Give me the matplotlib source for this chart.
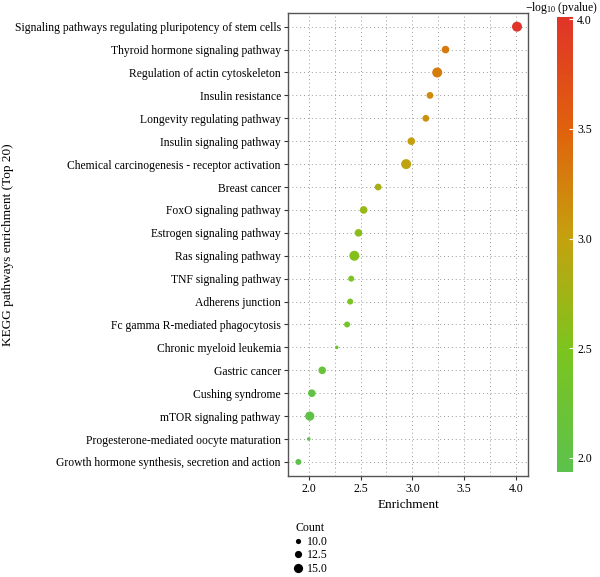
import matplotlib
matplotlib.use("Agg")
import matplotlib.pyplot as plt
import numpy as np
from matplotlib.colors import LinearSegmentedColormap, Normalize
from matplotlib.lines import Line2D

plt.rcParams['font.family'] = ['Liberation Serif', 'DejaVu Serif']
plt.rcParams['mathtext.fontset'] = 'custom'
plt.rcParams['mathtext.rm'] = 'Liberation Serif'
plt.rcParams['mathtext.it'] = 'Liberation Serif:italic'

pathways = [
    "Signaling pathways regulating pluripotency of stem cells",
    "Thyroid hormone signaling pathway",
    "Regulation of actin cytoskeleton",
    "Insulin resistance",
    "Longevity regulating pathway",
    "Insulin signaling pathway",
    "Chemical carcinogenesis - receptor activation",
    "Breast cancer",
    "FoxO signaling pathway",
    "Estrogen signaling pathway",
    "Ras signaling pathway",
    "TNF signaling pathway",
    "Adherens junction",
    "Fc gamma R-mediated phagocytosis",
    "Chronic myeloid leukemia",
    "Gastric cancer",
    "Cushing syndrome",
    "mTOR signaling pathway",
    "Progesterone-mediated oocyte maturation",
    "Growth hormone synthesis, secretion and action",
]
enrichment = [4.01, 3.32, 3.24, 3.17, 3.13, 2.99, 2.94, 2.67, 2.53, 2.48,
              2.44, 2.41, 2.40, 2.37, 2.27, 2.13, 2.03, 2.01, 2.00, 1.90]
counts = [16, 13, 16, 12, 12, 13, 16, 12, 13, 13,
          16, 11, 11, 11, 8, 13, 13, 15, 8, 11]
neglogp = [4.012, 3.3, 3.28, 3.18, 3.12, 3.02, 2.96, 2.78, 2.68, 2.6,
           2.56, 2.5, 2.45, 2.38, 2.3, 2.15, 2.02, 2.0, 1.98, 1.936]
size_breaks = [10.0, 12.5, 15.0]
cbar_ticks = [2.0, 2.5, 3.0, 3.5, 4.0]
x_ticks = [2.0, 2.5, 3.0, 3.5, 4.0]

cmap = LinearSegmentedColormap.from_list(
    "kegg",
    [(0.0, "#5CC24C"), (0.27, "#7CC41E"), (0.51, "#C4A20E"),
     (0.75, "#E0620C"), (1.0, "#E03428")])
norm = Normalize(vmin=min(neglogp), vmax=max(neglogp))

def diam_pt(c):
    px = 3.6 + 0.8 * (np.asarray(c, dtype=float) - 8)
    return px * 72.0 / 100.0

fig = plt.figure(figsize=(6.0, 5.77), dpi=100)
ax = fig.add_axes([0.4795, 0.1756, 0.401, 0.802])

n = len(pathways)
ypos = np.arange(n)[::-1]
sizes = [diam_pt(c) ** 2 for c in counts]
ax.scatter(enrichment, ypos, s=sizes, c=neglogp, cmap=cmap, norm=norm,
           edgecolors='none', zorder=3)

ax.set_xlim(1.797, 4.119)
ax.set_ylim(-0.6, n - 0.4)
ax.set_yticks(ypos)
ax.set_yticklabels(pathways, fontsize=8.4)
ax.set_xticks(x_ticks)
ax.set_xticklabels([f"{t:.1f}" for t in x_ticks], fontsize=8.6)
ax.tick_params(axis='both', which='major', length=3, width=0.8, color='#333333', pad=2)

for xv in np.arange(1.75, 4.2, 0.25):
    if 1.797 < xv < 4.119:
        ax.axvline(xv, color='#999999', lw=0.7, ls=(0, (1, 3)), zorder=1)
for yv in ypos:
    ax.axhline(yv, color='#999999', lw=0.7, ls=(0, (1, 3)), zorder=1)

for sp in ax.spines.values():
    sp.set_color('#555555')
    sp.set_linewidth(1.0)

ax.set_xlabel("Enrichment", fontsize=9.5, labelpad=3)
fig.text(0.013, (0.1756 + 0.9775) / 2, "KEGG pathways enrichment (Top 20)",
         rotation=90, va='center', ha='center', fontsize=9.5)

# colorbar
cax = fig.add_axes([0.928, 1 - 472 / 577, 0.027, (472 - 16.7) / 577])
sm = plt.cm.ScalarMappable(norm=norm, cmap=cmap)
cb = fig.colorbar(sm, cax=cax)
cb.outline.set_visible(False)
cb.set_ticks(cbar_ticks)
cb.set_ticklabels([f"{t:.1f}" for t in cbar_ticks])
cax.tick_params(length=3, width=0.8, colors='white', labelcolor='black',
                labelsize=8.6, direction='in', pad=3)
fig.text(0.997, 1 - 8 / 577, r"$\mathrm{-log_{10}}$ (pvalue)",
         ha='right', va='center', fontsize=8.4)

# size legend
handles = [Line2D([], [], marker='o', ls='none', color='black',
                  markersize=diam_pt(b), markeredgewidth=0) for b in size_breaks]
leg = fig.legend(handles, [f"{b:.1f}" for b in size_breaks], title="Count",
                 loc='upper left', bbox_to_anchor=(0.476, 0.107),
                 frameon=False, fontsize=8.6, title_fontsize=8.6,
                 handlelength=0.8, handletextpad=0.4, labelspacing=0.12,
                 borderpad=0.1)

fig.savefig("out.png", dpi=100)
